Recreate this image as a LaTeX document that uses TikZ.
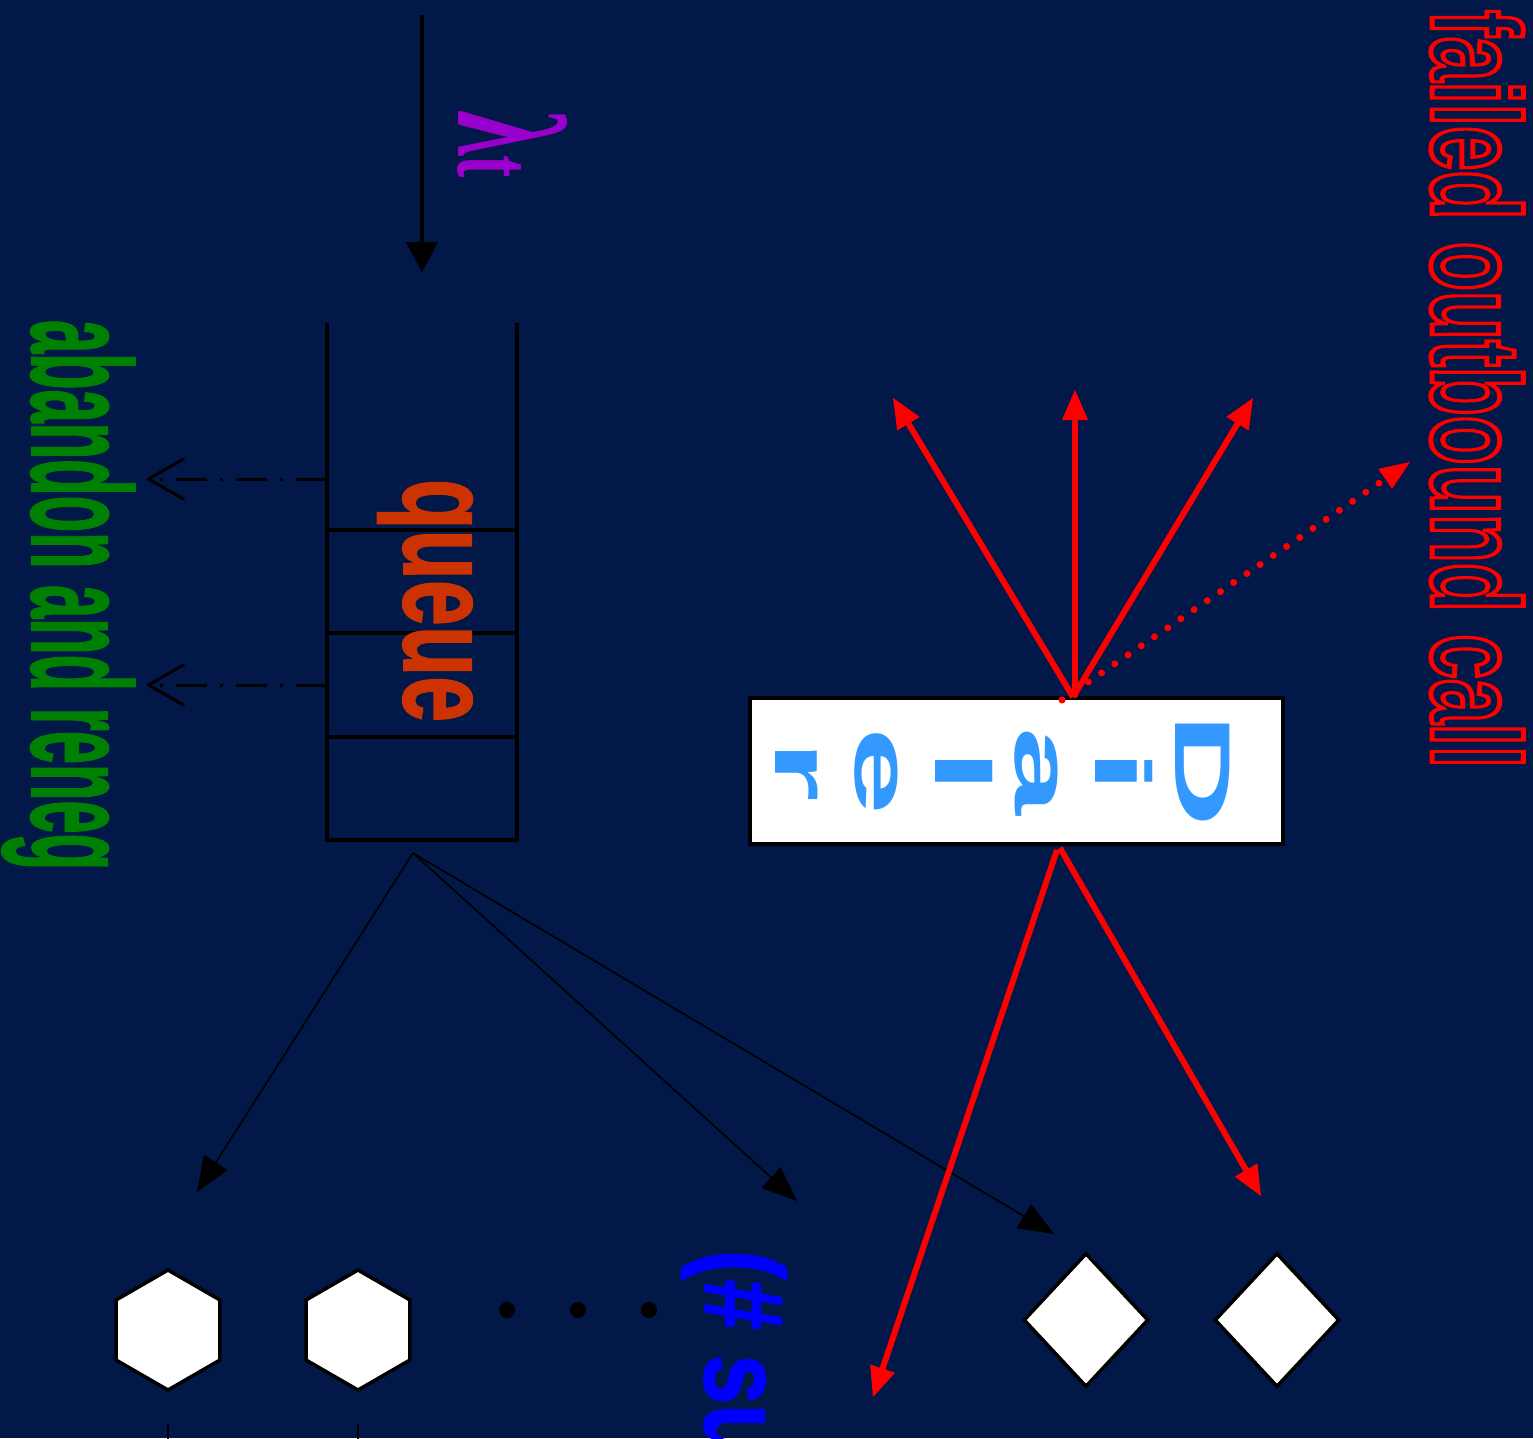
\documentclass[tikz,border=0pt]{standalone}
\usepackage{fontspec}
\usepackage{graphicx}
\usetikzlibrary{arrows.meta,shapes.geometric}
\newfontfamily\bsans{Liberation Sans Bold}
\newfontfamily\hsans{Liberation Sans Bold}[FakeBold=1.5]
\newfontfamily\lserif{Liberation Serif Bold}
\definecolor{bgblue}{RGB}{2,24,72}
\definecolor{qorange}{RGB}{204,51,0}
\definecolor{dgreen}{RGB}{0,128,0}
\definecolor{dblue}{RGB}{51,153,255}
\definecolor{lpurple}{RGB}{153,0,204}
\definecolor{pblue}{RGB}{0,0,255}
\newcommand\hollowtxt[1]{\special{pdf:literal direct 1 Tr 5 w}#1\special{pdf:literal direct 0 Tr}}
\newcommand\dl[1]{\scalebox{2}[1]{#1}}
\begin{document}
\begin{tikzpicture}[x=1pt,y=-1pt,
  vtext/.style={rotate=-90,anchor=base west,inner sep=0pt,outer sep=0pt},
  qline/.style={line width=4pt},
  blackarrow/.style={line width=1.6pt,-{Triangle[length=35pt,width=28pt,line width=1pt]}},
  redarrow/.style={red,line width=6pt,-{Triangle[length=30pt,width=26pt,line width=1pt]}},
  reddots/.style={red,line width=7pt,line cap=round,dash pattern=on 0pt off 16pt,-{Triangle[length=30pt,width=24pt,line width=1pt]}},
  abandonline/.style={line width=3pt,dash pattern=on 31pt off 13pt on 3pt off 13pt,-{Straight Barb[length=35pt,width=40pt,round]}},
  hexa/.style={regular polygon,regular polygon sides=6,shape border rotate=30,minimum size=120pt,inner sep=0pt,draw=black,fill=white,line width=3.5pt},
  diam/.style={diamond,minimum width=125pt,minimum height=134pt,inner sep=0pt,draw=black,fill=white,line width=3.5pt},
  dotn/.style={circle,fill=black,minimum size=16pt,inner sep=0pt},
]
\fill[bgblue] (0,0) rectangle (1533,1438);
\useasboundingbox (0,0) rectangle (1533,1438);

% arrival arrow
\coordinate (lsrc) at (422,15);
\coordinate (lin) at (422,272);
\draw[line width=4pt,-{Triangle[length=30pt,width=32pt,line width=1pt]}] (lsrc) -- (lin);
\node[vtext,text=lpurple] (lam) at (458,110) {\scalebox{0.6}[1]{\lserif\fontsize{155}{160}\selectfont λ\fontsize{112}{120}\selectfont t}};

% queue
\draw[qline] (327,323) -- (327,840) -- (517,840) -- (517,323);
\foreach \yy in {530,633,737} \draw[qline] (327,\yy) -- (517,\yy);
\node[vtext,text=qorange] (qlabel) at (404,479) {\scalebox{0.65}[1]{\fontsize{127}{130}\selectfont\hsans queue}};

% abandon arrows
\coordinate (qa1) at (327,479);
\coordinate (ab1) at (147,479);
\coordinate (qa2) at (327,685);
\coordinate (ab2) at (147,685);
\draw[abandonline] (qa1) -- (ab1);
\draw[abandonline] (qa2) -- (ab2);
\node[vtext,text=dgreen] (aband) at (32,320) {\scalebox{0.42}[1]{\fontsize{142}{150}\selectfont\hsans abandon and reneg}};

% servers
\node[hexa] (hex1) at (168,1330) {};
\node[hexa] (hex2) at (358,1330) {};
\node[dotn] (dot1) at (507,1310) {};
\node[dotn] (dot2) at (578,1310) {};
\node[dotn] (dot3) at (649,1310) {};
\coordinate (h1s) at (168,1424);
\coordinate (h1e) at (168,1442);
\coordinate (h2s) at (358,1424);
\coordinate (h2e) at (358,1442);
\draw[line width=1.5pt] (h1s) -- (h1e);
\draw[line width=1.5pt] (h2s) -- (h2e);
\node[vtext,text=pblue] (subs) at (705,1250) {\scalebox{0.8}[1]{\fontsize{112}{120}\selectfont\hsans(\# su}};

% diamonds
\node[diam] (dia1) at (1086,1320) {};
\node[diam] (dia2) at (1277,1320) {};

% routing arrows
\coordinate (qout) at (413,853);
\coordinate (t1) at (197,1192);
\coordinate (t2) at (797,1201);
\coordinate (t3) at (1054,1234);
\draw[blackarrow] (qout) -- (t1);
\draw[blackarrow] (qout) -- (t2);
\draw[blackarrow] (qout) -- (t3);

% dialer
\node[draw=black,fill=white,line width=4pt,minimum width=533pt,minimum height=146pt,inner sep=0pt] (dialer) at (1016.5,771) {};
\node[rotate=-90,anchor=north,inner sep=0pt,align=center,text=dblue,font=\bsans\fontsize{79}{80}\selectfont] (dialertext) at (1230,771) {\dl{D}\\\dl{i}\\\dl{a}\\\dl{l}\\\dl{e}\\\dl{r}};

\coordinate (dtop) at (1073,697);
\coordinate (dtopr) at (1075,697);
\coordinate (dtopd) at (1062,700);
\coordinate (r1) at (893,398);
\coordinate (r2) at (1075,390);
\coordinate (r3) at (1253,398);
\coordinate (r4) at (1410,462);
\coordinate (dbot1) at (1057,850);
\coordinate (dbot2) at (1060,848);
\coordinate (r5) at (873,1397);
\coordinate (r6) at (1261,1196);
\draw[redarrow] (dtop) -- (r1);
\draw[redarrow] (dtopr) -- (r2);
\draw[redarrow] (dtop) -- (r3);
\draw[reddots] (dtopd) -- (r4);
\draw[redarrow] (dbot1) -- (r5);
\draw[redarrow] (dbot2) -- (r6);

\node[vtext,text=red] (failed) at (1432,10) {\scalebox{0.637}[1]{\fontsize{126}{130}\selectfont\bsans\hollowtxt{failed outbound call}}};
\end{tikzpicture}
\end{document}
